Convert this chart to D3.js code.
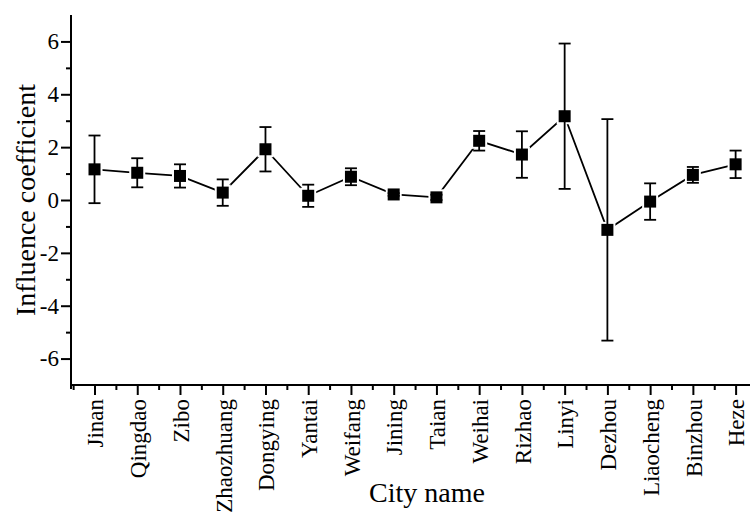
<!DOCTYPE html>
<html>
<head>
<meta charset="utf-8">
<script src="https://cdn.jsdelivr.net/npm/d3@7/dist/d3.min.js"></script>
<style>
  html, body { margin: 0; padding: 0; background: #fff; }
  svg { display: block; }
</style>
</head>
<body>
<svg id="chart" width="750" height="513"></svg>
<script>
// City names along the x axis
const cities = ["Jinan", "Qingdao", "Zibo", "Zhaozhuang", "Dongying", "Yantai", "Weifang", "Jining",
                "Taian", "Weihai", "Rizhao", "Linyi", "Dezhou", "Liaocheng", "Binzhou", "Heze"];
// Mean influence coefficient per city
const coefficients = [1.16, 1.03, 0.91, 0.28, 1.92, 0.16, 0.88, 0.21,
                      0.10, 2.24, 1.72, 3.17, -1.13, -0.06, 0.95, 1.35];
// Symmetric error (half-width of the error bar)
const errors = [1.28, 0.55, 0.44, 0.50, 0.84, 0.42, 0.32, 0.05,
                0.10, 0.37, 0.88, 2.75, 4.19, 0.69, 0.30, 0.52];
// Axis ticks
const yMajorTicks = [-6, -4, -2, 0, 2, 4, 6];
const yMinorTicks = [-5, -3, -1, 1, 3, 5];
const yTitle = "Influence coefficient";
const xTitle = "City name";

const FONT = "'Liberation Serif', 'Times New Roman', Times, serif";

const svg = d3.select("#chart").attr("font-family", FONT);

const x = d3.scaleLinear().domain([0.45, 16.36]).range([71, 751]);
const y = d3.scaleLinear().domain([-7, 7]).range([385, 15]);

const data = cities.map((c, i) => ({ city: c, idx: i + 1, v: coefficients[i], e: errors[i] }));

const xMajor = d3.range(1, cities.length + 1);
const xMinor = d3.range(0.5, cities.length + 0.6, 1);

// ---- Y axis ----
const yAxisG = svg.append("g").attr("transform", `translate(${x.range()[0]},0)`);
yAxisG.call(d3.axisLeft(y).tickValues(yMajorTicks).tickSize(10).tickPadding(2)
  .tickFormat(d => String(d)));
yAxisG.append("g").call(d3.axisLeft(y).tickValues(yMinorTicks).tickSize(5).tickFormat(""));
yAxisG.attr("font-family", FONT).attr("font-size", 23);
yAxisG.selectAll(".domain").remove();
yAxisG.selectAll("line").attr("stroke", "#000").attr("stroke-width", 2);
yAxisG.selectAll("text").attr("font-family", FONT).attr("font-size", 23).attr("fill", "#000");

// ---- X axis ----
const xAxisG = svg.append("g").attr("transform", `translate(0,${y.range()[0]})`);
xAxisG.call(d3.axisBottom(x).tickValues(xMajor).tickSize(10).tickFormat(i => cities[i - 1]));
xAxisG.append("g").call(d3.axisBottom(x).tickValues(xMinor).tickSize(5).tickFormat(""));
xAxisG.attr("font-family", FONT).attr("font-size", 23);
xAxisG.selectAll(".domain").remove();
xAxisG.selectAll("line").attr("stroke", "#000").attr("stroke-width", 2);
xAxisG.selectAll("text")
  .attr("font-family", FONT)
  .attr("font-size", 23)
  .attr("fill", "#000")
  .attr("transform", "rotate(-90)")
  .attr("text-anchor", "end")
  .attr("x", -14)
  .attr("y", 0)
  .attr("dy", "0.36em");

// Axis lines
svg.append("line")
  .attr("x1", x.range()[0]).attr("x2", x.range()[0])
  .attr("y1", y.range()[1]).attr("y2", y.range()[0] + 4)
  .attr("stroke", "#000").attr("stroke-width", 2);
svg.append("line")
  .attr("x1", x.range()[0]).attr("x2", x.range()[1])
  .attr("y1", y.range()[0]).attr("y2", y.range()[0])
  .attr("stroke", "#000").attr("stroke-width", 2);

// ---- Connecting line ----
const line = d3.line().x(d => x(d.idx)).y(d => y(d.v));
svg.append("path")
  .datum(data)
  .attr("d", line)
  .attr("fill", "none")
  .attr("stroke", "#000")
  .attr("stroke-width", 1.8);

// White pads around markers leave a small gap in the line
svg.append("g").selectAll("rect")
  .data(data).join("rect")
  .attr("x", d => x(d.idx) - 8).attr("y", d => y(d.v) - 8)
  .attr("width", 16).attr("height", 16)
  .attr("fill", "#fff");

// ---- Error bars ----
const capW = 6;
const eb = svg.append("g").attr("stroke", "#000").attr("stroke-width", 1.8);
eb.selectAll("line.stem").data(data).join("line").attr("class", "stem")
  .attr("x1", d => x(d.idx)).attr("x2", d => x(d.idx))
  .attr("y1", d => y(d.v + d.e)).attr("y2", d => y(d.v - d.e));
eb.selectAll("line.capTop").data(data).join("line").attr("class", "capTop")
  .attr("x1", d => x(d.idx) - capW).attr("x2", d => x(d.idx) + capW)
  .attr("y1", d => y(d.v + d.e)).attr("y2", d => y(d.v + d.e));
eb.selectAll("line.capBot").data(data).join("line").attr("class", "capBot")
  .attr("x1", d => x(d.idx) - capW).attr("x2", d => x(d.idx) + capW)
  .attr("y1", d => y(d.v - d.e)).attr("y2", d => y(d.v - d.e));

// ---- Square markers ----
svg.append("g").selectAll("rect")
  .data(data).join("rect")
  .attr("x", d => x(d.idx) - 6).attr("y", d => y(d.v) - 6)
  .attr("width", 12).attr("height", 12)
  .attr("fill", "#000");

// ---- Titles ----
svg.append("text")
  .attr("transform", `translate(35,${(y.range()[0] + y.range()[1]) / 2}) rotate(-90)`)
  .attr("text-anchor", "middle")
  .attr("font-family", FONT)
  .attr("font-size", 28)
  .attr("fill", "#000")
  .text(yTitle);
svg.append("text")
  .attr("x", 427).attr("y", 502)
  .attr("text-anchor", "middle")
  .attr("font-family", FONT)
  .attr("font-size", 28)
  .attr("fill", "#000")
  .text(xTitle);
</script>
</body>
</html>
